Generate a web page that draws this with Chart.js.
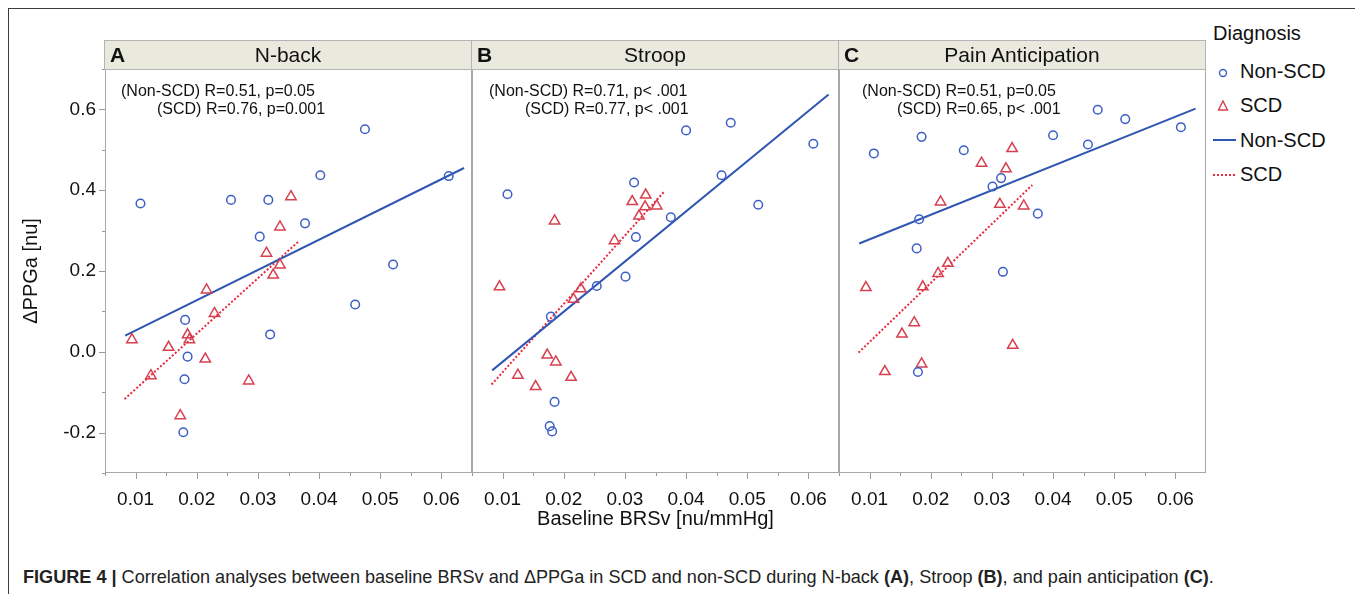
<!DOCTYPE html>
<html>
<head>
<meta charset="utf-8">
<title>BRSv vs PPGa</title>
<script src="https://cdn.jsdelivr.net/npm/chart.js@4.4.0/dist/chart.umd.min.js"></script>
<style>
  body { margin: 0; background: #fff; font-family: "Liberation Sans", Arial, sans-serif; color: #111; }
  #fig { position: relative; width: 1355px; height: 594px; overflow: hidden; }
  .frame { position: absolute; left: 8px; top: 8px; width: 1400px; height: 700px;
           border-top: 1px solid #3c3c3c; border-left: 1px solid #3c3c3c; }
  canvas { position: absolute; top: 69px; }
  .strip { position: absolute; top: 40px; height: 30px; width: 368px; box-sizing: border-box;
           background: #eae9dd; border: 1px solid #b4b4b4; font-size: 21px; line-height: 28px; }
  .strip b { position: absolute; left: 5px; top: 0; }
  .strip span { position: absolute; left: 0; right: 0; text-align: center; }
  .stat { position: absolute; font-size: 16px; line-height: 18px; white-space: nowrap; }
  .legend { position: absolute; left: 1213px; top: 22px; font-size: 20px; }
  .legend div { position: absolute; white-space: nowrap; }
  .legend svg { position: absolute; }
  .caption { position: absolute; left: 23px; top: 567px; font-size: 18.1px; white-space: nowrap; color: #222; }
</style>
</head>
<body>
<div id="fig">
  <div class="frame"></div>
  <canvas id="panelA" width="472" height="474" style="left:0px"></canvas>
  <canvas id="panelB" width="367" height="474" style="left:472px"></canvas>
  <canvas id="panelC" width="367" height="474" style="left:839px"></canvas>
  <div class="legend">
    <div style="left:0;top:0">Diagnosis</div>
    <svg style="left:3px;top:44px" width="14" height="14"><circle cx="7" cy="7" r="3.5" fill="none" stroke="#3d5fc4" stroke-width="1.4"/></svg>
    <div style="left:27px;top:38px">Non-SCD</div>
    <svg style="left:2px;top:77px" width="16" height="14"><polygon points="8,2 12.5,11 3.5,11" fill="none" stroke="#d6404f" stroke-width="1.4"/></svg>
    <div style="left:27px;top:72px">SCD</div>
    <svg style="left:0;top:112px" width="24" height="12"><line x1="0" y1="6" x2="23" y2="6" stroke="#2f56b0" stroke-width="2"/></svg>
    <div style="left:27px;top:107px">Non-SCD</div>
    <svg style="left:0;top:147px" width="24" height="12"><line x1="0" y1="6" x2="23" y2="6" stroke="#e8283c" stroke-width="2" stroke-dasharray="2,2"/></svg>
    <div style="left:27px;top:141px">SCD</div>
  </div>
  <div class="caption"><b>FIGURE 4 |</b> Correlation analyses between baseline BRSv and ΔPPGa in SCD and non-SCD during N-back <b>(A)</b>, Stroop <b>(B)</b>, and pain anticipation <b>(C)</b>.</div>
</div>
<script>
// panel headings and correlation stats
const panelLetters = ['A', 'B', 'C'];
const panelTitles = ['N-back', 'Stroop', 'Pain Anticipation'];
const statsNonScd = ['(Non-SCD) R=0.51, p=0.05', '(Non-SCD) R=0.71, p< .001', '(Non-SCD) R=0.51, p=0.05'];
const statsScd = ['(SCD) R=0.76, p=0.001', '(SCD) R=0.77, p< .001', '(SCD) R=0.65, p< .001'];

// axis labels (x = baseline BRSv, y = delta PPGa)
const xLabelled = [0.01, 0.02, 0.03, 0.04, 0.05, 0.06];
const yLabelled = [-0.2, 0.0, 0.2, 0.4, 0.6];

// [BRSv, dPPGa] per subject
const nbackNon = [[0.0108,0.367],[0.0475,0.551],[0.0402,0.437],[0.0612,0.435],[0.0256,0.376],[0.0317,0.376],[0.0377,0.318],[0.0303,0.285],[0.0521,0.216],[0.0459,0.117],[0.0181,0.079],[0.0320,0.043],[0.0185,-0.012],[0.0180,-0.068],[0.0178,-0.199]];
const nbackScd = [[0.0354,0.384],[0.0336,0.309],[0.0314,0.244],[0.0336,0.215],[0.0325,0.190],[0.0216,0.153],[0.0229,0.095],[0.0185,0.042],[0.0188,0.030],[0.0094,0.030],[0.0154,0.011],[0.0214,-0.018],[0.0125,-0.059],[0.0285,-0.072],[0.0173,-0.158]];
const stroopNon = [[0.0108,0.390],[0.0400,0.548],[0.0473,0.567],[0.0608,0.515],[0.0458,0.437],[0.0518,0.364],[0.0315,0.419],[0.0375,0.333],[0.0318,0.284],[0.0301,0.186],[0.0254,0.163],[0.0179,0.087],[0.0185,-0.124],[0.0177,-0.184],[0.0181,-0.197]];
const stroopScd = [[0.0185,0.324],[0.0095,0.161],[0.0334,0.388],[0.0312,0.372],[0.0333,0.359],[0.0352,0.361],[0.0323,0.336],[0.0283,0.275],[0.0228,0.156],[0.0216,0.130],[0.0173,-0.008],[0.0187,-0.025],[0.0125,-0.058],[0.0212,-0.063],[0.0154,-0.086]];
const painNon = [[0.0107,0.491],[0.0185,0.532],[0.0254,0.499],[0.0400,0.536],[0.0473,0.599],[0.0518,0.576],[0.0609,0.556],[0.0457,0.513],[0.0315,0.430],[0.0301,0.409],[0.0375,0.342],[0.0181,0.328],[0.0177,0.256],[0.0318,0.198],[0.0179,-0.050]];
const painScd = [[0.0333,0.503],[0.0283,0.467],[0.0323,0.453],[0.0216,0.371],[0.0313,0.365],[0.0352,0.361],[0.0228,0.219],[0.0212,0.194],[0.0187,0.161],[0.0094,0.159],[0.0173,0.072],[0.0153,0.044],[0.0334,0.016],[0.0185,-0.030],[0.0125,-0.049]];

// fitted regression lines, end points
const nbackFitNon = [[0.0083,0.040],[0.0637,0.455]];
const nbackFitScd = [[0.0082,-0.117],[0.0367,0.274]];
const stroopFitNon = [[0.0083,-0.046],[0.0633,0.637]];
const stroopFitScd = [[0.0082,-0.081],[0.0364,0.396]];
const painFitNon = [[0.0083,0.268],[0.0633,0.602]];
const painFitScd = [[0.0082,-0.002],[0.0366,0.413]];

const blue = '#3d5fc4', blueLine = '#2f56b0', red = '#d6404f', redLine = '#e8283c', axisGrey = '#9a9a9a';
Chart.defaults.font.family = '"Liberation Sans", Arial, sans-serif';
Chart.defaults.color = '#111';

const fig = document.getElementById('fig');
const stripLeft = [104, 471, 838];
const statPos = [[121, 157], [489, 525], [862, 897]];
panelLetters.forEach((l, i) => {
  const s = document.createElement('div');
  s.className = 'strip';
  s.style.left = stripLeft[i] + 'px';
  s.innerHTML = '<b>' + l + '</b><span>' + panelTitles[i] + '</span>';
  fig.appendChild(s);
  [statsNonScd[i], statsScd[i]].forEach((t, k) => {
    const d = document.createElement('div');
    d.className = 'stat';
    d.style.left = statPos[i][k] + 'px';
    d.style.top = (82 + k * 18) + 'px';
    d.textContent = t;
    fig.appendChild(d);
  });
});

const toXY = pts => pts.map(p => ({x: p[0], y: p[1]}));
const near = (v, list) => list.some(t => Math.abs(t - v) < 1e-6);
const isMajor = (scale, v) => near(v, scale.axis === 'x' ? xLabelled : yLabelled);

// tick marks (long at labelled values, short between) and the panel box
const panelDecor = {
  id: 'panelDecor',
  afterDraw(chart) {
    const {ctx, chartArea: a} = chart;
    ctx.save();
    ctx.strokeStyle = axisGrey;
    ctx.lineWidth = 1;
    Object.values(chart.scales).forEach(s => {
      if (!s.options.display) return;
      s.ticks.forEach(t => {
        const len = isMajor(s, t.value) ? 6 : 3;
        const p = Math.round(s.getPixelForValue(t.value)) + 0.5;
        ctx.beginPath();
        if (s.isHorizontal()) { ctx.moveTo(p, a.bottom); ctx.lineTo(p, a.bottom + len); }
        else { ctx.moveTo(a.left, p); ctx.lineTo(a.left - len, p); }
        ctx.stroke();
      });
    });
    ctx.strokeStyle = '#a8a8a8';
    ctx.strokeRect(a.left + 0.5, a.top + 0.5, a.width - 1, a.height - 1);
    ctx.restore();
  }
};

function makePanel(id, non, scd, fitNon, fitScd, showY, showXTitle) {
  return new Chart(document.getElementById(id), {
    type: 'scatter',
    data: {
      datasets: [
        { label: 'Non-SCD', data: toXY(non), pointStyle: 'circle', pointRadius: 4.3, borderColor: blue,
          backgroundColor: 'transparent', borderWidth: 1.5 },
        { label: 'SCD', data: toXY(scd), pointStyle: 'triangle', pointRadius: 6, borderColor: red,
          backgroundColor: 'transparent', borderWidth: 1.5 },
        { label: 'Non-SCD fit', data: toXY(fitNon), showLine: true, pointRadius: 0, borderColor: blueLine,
          borderWidth: 2 },
        { label: 'SCD fit', data: toXY(fitScd), showLine: true, pointRadius: 0, borderColor: redLine,
          borderWidth: 2, borderDash: [2, 2] }
      ]
    },
    options: {
      responsive: false,
      animation: false,
      layout: { padding: 0, autoPadding: false },
      plugins: { legend: { display: false }, tooltip: { enabled: false } },
      scales: {
        x: {
          type: 'linear', min: 0.005, max: 0.065,
          border: { display: false },
          grid: { drawOnChartArea: false, tickLength: 15, tickColor: 'rgba(0,0,0,0)' },
          ticks: { stepSize: 0.005, autoSkip: false, maxRotation: 0, padding: 0, font: { size: 19 },
                   callback: v => near(v, xLabelled) ? v.toFixed(2) : '' },
          title: { display: showXTitle, text: 'Baseline BRSv [nu/mmHg]', font: { size: 20 }, padding: { bottom: 12 } },
          afterFit: s => { s.height = 70; s.paddingLeft = 0; s.paddingRight = 0; }
        },
        y: {
          type: 'linear', min: -0.3, max: 0.7, display: showY,
          border: { display: false },
          grid: { drawOnChartArea: false, tickLength: 9, tickColor: 'rgba(0,0,0,0)' },
          ticks: { stepSize: 0.1, autoSkip: false, padding: 0, font: { size: 19 },
                   callback: v => near(v, yLabelled) ? v.toFixed(1) : '' },
          title: { display: true, text: 'ΔPPGa [nu]', font: { size: 20 }, padding: { top: 19 } },
          afterFit: s => { s.width = showY ? 105 : 0; s.paddingTop = 0; s.paddingBottom = 0; }
        }
      }
    },
    plugins: [panelDecor]
  });
}

makePanel('panelA', nbackNon, nbackScd, nbackFitNon, nbackFitScd, true, false);
makePanel('panelB', stroopNon, stroopScd, stroopFitNon, stroopFitScd, false, true);
makePanel('panelC', painNon, painScd, painFitNon, painFitScd, false, false);
</script>
</body>
</html>
